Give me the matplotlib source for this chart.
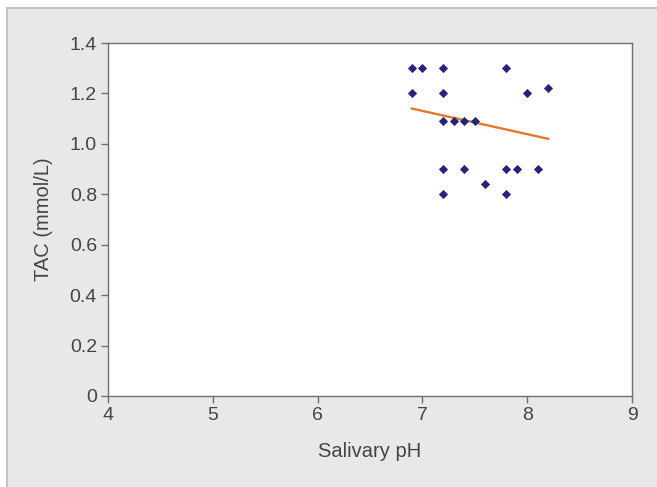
import matplotlib
matplotlib.use("Agg")
import matplotlib.pyplot as plt
from matplotlib.patches import Rectangle

plt.rcParams['font.family'] = ['Liberation Sans', 'DejaVu Sans']

ph = [6.9, 7.0, 7.2, 7.8,
      6.9, 7.2, 8.0, 8.2,
      7.2, 7.3, 7.4, 7.5,
      7.2, 7.4, 7.8, 7.9, 8.1,
      7.6,
      7.2, 7.8]
tac = [1.30, 1.30, 1.30, 1.30,
       1.20, 1.20, 1.20, 1.22,
       1.09, 1.09, 1.09, 1.09,
       0.90, 0.90, 0.90, 0.90, 0.90,
       0.84,
       0.80, 0.80]

fit_x = [6.9, 8.2]
fit_y = [1.14, 1.02]

x_ticks = [4, 5, 6, 7, 8, 9]
y_ticks = [0, 0.2, 0.4, 0.6, 0.8, 1.0, 1.2, 1.4]
y_labels = ['0', '0.2', '0.4', '0.6', '0.8', '1.0', '1.2', '1.4']

fig = plt.figure(figsize=(6.57, 4.87), dpi=100)
fig.patch.set_facecolor('white')
bg = Rectangle((7/657, -0.01), 1.0, (487-8)/487 + 0.01, transform=fig.transFigure,
               facecolor='#e8e8e8', edgecolor='#c4c4c4', linewidth=1.5, zorder=-10)
fig.add_artist(bg)

ax = fig.add_axes([108/657, 1-396/487, (632-108)/657, (396-43)/487])
ax.set_zorder(5)
ax.set_facecolor('white')
ax.scatter(ph, tac, marker='D', s=22, color='#25237a', zorder=3, linewidths=0)
ax.plot(fit_x, fit_y, color='#e8772e', linewidth=1.7, zorder=2)

ax.set_xlim(4, 9)
ax.set_ylim(0, 1.4)
ax.set_xticks(x_ticks)
ax.set_yticks(y_ticks)
ax.set_yticklabels(y_labels)
for s in ax.spines.values():
    s.set_color('#707070')
    s.set_linewidth(1.0)
ax.tick_params(colors='#707070', labelcolor='#454545', labelsize=14, length=5, width=1.0,
               direction='out', pad=3)
ax.set_xlabel('Salivary pH', fontsize=14.5, color='#454545', labelpad=13)
ax.set_ylabel('TAC (mmol/L)', fontsize=14.5, color='#454545', labelpad=12)

fig.savefig('out.png', dpi=100, facecolor=fig.get_facecolor())
